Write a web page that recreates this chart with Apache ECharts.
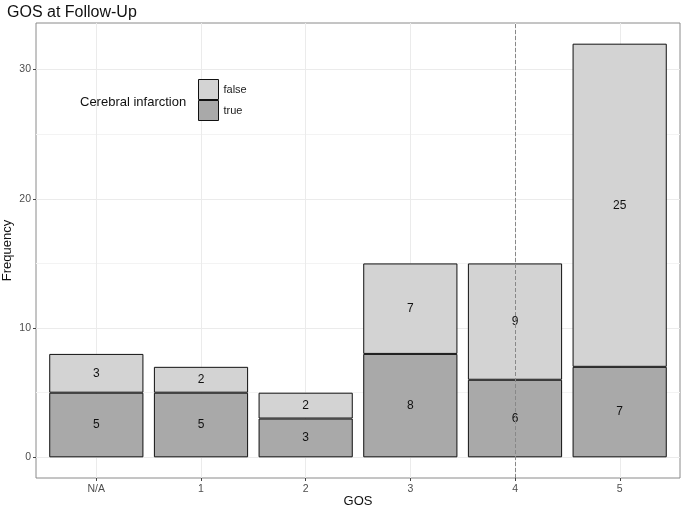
<!DOCTYPE html>
<html style="height: 100%">
<head>
    <meta charset="utf-8">
</head>
<body style="height: 100%; margin: 0">
    <div id="container" style="width: 685px; height: 508px"></div>
    <script src="https://cdn.jsdelivr.net/npm/echarts@6/dist/echarts.min.js"></script>
    <script type="text/javascript">
        // GOS categories and counts (stacked: true at bottom, false on top)
        var categories = ['N/A', '1', '2', '3', '4', '5'];
        var trueCounts = [5, 5, 3, 8, 6, 7];
        var falseCounts = [3, 2, 2, 7, 9, 25];
        var yTicks = [0, 10, 20, 30];
        var yMinor = [5, 15, 25];

        var font = 'Liberation Sans';
        var xs = categories.map(function (c, i) { return i; });
        var yMin = -1.6, yMax = 33.6;

        var dom = document.getElementById('container');
        var myChart = echarts.init(dom);

        var option = {
            animation: false,
            textStyle: { fontFamily: font },
            title: [
                { text: 'GOS at Follow-Up', left: 2, top: 0, textStyle: { fontSize: 16, fontWeight: 'normal', color: '#111', fontFamily: font } },
                { text: 'Cerebral infarction', left: 75, top: 91, textStyle: { fontSize: 13, fontWeight: 'normal', color: '#111', fontFamily: font } }
            ],
            legend: {
                data: ['false', 'true'],
                orient: 'vertical',
                left: 193,
                top: 74,
                itemWidth: 20,
                itemHeight: 20,
                itemGap: 0,
                icon: 'rect',
                itemStyle: { borderWidth: 1, borderColor: '#111' },
                textStyle: { fontSize: 11, color: '#222', fontFamily: font }
            },
            grid: [{
                // data grid: bands sized so category centres match the panel
                left: 44, right: 13, top: 23, bottom: 30,
                outerBoundsMode: 'none'
            }, {
                // panel: border, gridlines, tick labels
                left: 36, right: 5, top: 23, bottom: 30,
                show: true, borderColor: '#8a8a8a', borderWidth: 1,
                outerBoundsMode: 'none'
            }],
            xAxis: [{
                type: 'category',
                gridIndex: 0,
                data: categories,
                show: false
            }, {
                type: 'value',
                gridIndex: 1,
                min: -0.575,
                max: 5.575,
                name: 'GOS',
                nameLocation: 'middle',
                nameGap: 17,
                nameMoveOverlap: false,
                nameTextStyle: { fontSize: 13, color: '#111' },
                axisLine: { show: false, onZero: false },
                axisTick: { show: true, customValues: xs, length: 3, lineStyle: { color: '#444' } },
                axisLabel: {
                    customValues: xs,
                    fontSize: 10.5, color: '#4d4d4d', margin: 6,
                    formatter: function (v) { return categories[Math.round(v)]; }
                },
                splitLine: { show: true, lineStyle: { color: '#ebebeb', width: 1 } }
            }],
            yAxis: [{
                type: 'value',
                gridIndex: 0,
                min: yMin,
                max: yMax,
                show: false
            }, {
                type: 'value',
                gridIndex: 1,
                min: yMin,
                max: yMax,
                name: 'Frequency',
                nameLocation: 'middle',
                nameGap: 22,
                nameMoveOverlap: false,
                nameTextStyle: { fontSize: 13, color: '#111' },
                axisLine: { show: false, onZero: false },
                axisTick: { show: true, customValues: yTicks, length: 3, lineStyle: { color: '#444' } },
                axisLabel: { customValues: yTicks, fontSize: 10.5, color: '#4d4d4d', margin: 5 },
                splitLine: { show: true, lineStyle: { color: '#ebebeb', width: 1 } }
            }, {
                type: 'value',
                gridIndex: 1,
                min: yMin,
                max: yMax,
                axisLine: { show: false, onZero: false },
                axisTick: { show: false, customValues: yMinor },
                axisLabel: { show: false, customValues: yMinor },
                splitLine: { show: true, lineStyle: { color: '#f3f3f3', width: 1 } }
            }],
            series: [{
                name: 'true',
                type: 'bar',
                stack: 'gos',
                xAxisIndex: 0,
                yAxisIndex: 0,
                barWidth: '90%',
                data: trueCounts,
                itemStyle: { color: '#a9a9a9', borderColor: '#111', borderWidth: 1 },
                label: { show: true, position: 'inside', fontSize: 12, color: '#111' },
                markLine: {
                    silent: true,
                    symbol: 'none',
                    label: { show: false },
                    lineStyle: { type: 'dashed', color: '#888', width: 1 },
                    data: [{ xAxis: '4' }]
                }
            }, {
                name: 'false',
                type: 'bar',
                stack: 'gos',
                xAxisIndex: 0,
                yAxisIndex: 0,
                barWidth: '90%',
                data: falseCounts,
                itemStyle: { color: '#d3d3d3', borderColor: '#111', borderWidth: 1 },
                label: { show: true, position: 'inside', fontSize: 12, color: '#111' }
            }]
        };

        myChart.setOption(option);
    </script>
</body>
</html>
